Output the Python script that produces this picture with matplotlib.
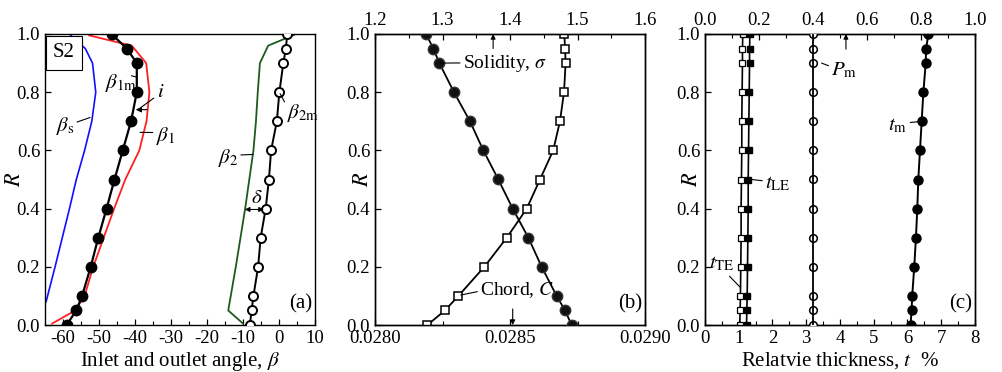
import matplotlib
matplotlib.use("Agg")
import matplotlib.pyplot as plt
from matplotlib.ticker import MultipleLocator, FormatStrFormatter

plt.rcParams['font.family'] = ['Liberation Serif', 'DejaVu Serif']
plt.rcParams['mathtext.fontset'] = 'stix'
plt.rcParams['axes.linewidth'] = 1.0
plt.rcParams['axes.unicode_minus'] = False

# ---------------- data ----------------
R = [0.0, 0.05, 0.1, 0.2, 0.3, 0.4, 0.5, 0.6, 0.7, 0.8, 0.9, 0.95, 1.0]

# panel (a)
beta1m = [-59.0, -56.3, -54.7, -52.3, -50.2, -47.9, -45.7, -43.4, -41.1, -39.5, -39.5, -42.3, -46.5]
beta2m = [-8.1, -7.6, -7.1, -5.8, -5.1, -3.7, -2.8, -2.2, -0.6, 0.1, 1.2, 1.9, 2.3]
R_beta1 = [0.005, 0.05, 0.1, 0.2, 0.3, 0.4, 0.5, 0.6, 0.7, 0.8, 0.9, 0.96, 0.995]
beta1 = [-63.0, -56.6, -54.0, -51.6, -48.7, -45.8, -42.7, -38.8, -36.8, -36.0, -36.9, -40.9, -52.7]
R_betas = [0.08, 0.2, 0.3, 0.4, 0.5, 0.6, 0.7, 0.8, 0.9, 0.95, 1.0]
betas = [-64.7, -62.2, -60.2, -58.2, -56.3, -54.0, -52.0, -50.9, -51.8, -53.8, -58.2]
R_beta2 = [0.005, 0.05, 0.2, 0.4, 0.6, 0.7, 0.8, 0.9, 0.96, 0.997]
beta2 = [-10.0, -14.1, -12.0, -9.4, -7.1, -6.4, -5.9, -5.3, -3.0, 4.2]

# panel (b)
chord = [0.028194, 0.028259, 0.028309, 0.028405, 0.028488, 0.028562, 0.028611,
         0.028660, 0.028685, 0.028700, 0.028706, 0.028704, 0.028701]
solidity = [1.4914, 1.4815, 1.4691, 1.4469, 1.4272, 1.4040, 1.3827,
            1.3605, 1.3407, 1.3170, 1.2953, 1.2864, 1.2756]

# panel (c)
t_TE = [1.03, 1.04, 1.05, 1.06, 1.07, 1.07, 1.08, 1.09, 1.09, 1.10, 1.11, 1.11, 1.12]
t_LE = [1.23, 1.24, 1.25, 1.26, 1.27, 1.28, 1.28, 1.29, 1.30, 1.31, 1.32, 1.32, 1.33]
P_m = [0.40, 0.40, 0.40, 0.40, 0.40, 0.40, 0.40, 0.40, 0.40, 0.40, 0.40, 0.40, 0.40]
t_m = [6.09, 6.12, 6.14, 6.20, 6.25, 6.29, 6.32, 6.37, 6.42, 6.47, 6.54, 6.55, 6.62]

# ---------------- figure ----------------
fig = plt.figure(figsize=(10.03, 3.72), dpi=100)
W, H = 1003.0, 372.0
bottom = (H - 325) / H
height = 291 / H
width = 270 / W
axa = fig.add_axes([45 / W, bottom, width, height])
axb = fig.add_axes([375 / W, bottom, width, height])
axc = fig.add_axes([705 / W, bottom, width, height])

TFS = 13.5   # tick font size
LFS = 15     # annotation font size


def style(ax, rx):
    ax.tick_params(which='both', direction='in', labelsize=TFS, top=False, right=False)
    ax.tick_params(which='major', length=4.5, width=0.9)
    ax.tick_params(which='minor', length=3, width=0.8)
    ax.set_ylim(0, 1.0)
    ax.yaxis.set_major_locator(MultipleLocator(0.2))
    ax.yaxis.set_major_formatter(FormatStrFormatter('%.1f'))
    ax.text(rx, 0.5, '$R$', transform=ax.transAxes, fontsize=16, rotation=90,
            ha='center', va='center')


def top_style(ax):
    ax.tick_params(which='both', direction='in', labelsize=TFS)
    ax.tick_params(which='major', length=4.5, width=0.9)
    ax.tick_params(which='minor', length=3, width=0.8)
    ax.set_ylim(0, 1.0)


def lead(ax, text, xy, xyt, ha='left', va='center', relpos=(0, 0.5), fs=LFS):
    ax.annotate(text, xy=xy, xytext=xyt, ha=ha, va=va, fontsize=fs,
                arrowprops=dict(arrowstyle='-', lw=0.8, color='k',
                                shrinkA=0, shrinkB=0, relpos=relpos))


def arrow(ax, xy, xyt, style='-|>', ms=7):
    ax.annotate('', xy=xy, xytext=xyt,
                arrowprops=dict(arrowstyle=style, lw=0.8, color='k', mutation_scale=ms,
                                shrinkA=0, shrinkB=0))


# ---- panel (a) ----
ax = axa
style(ax, -0.111)
ax.set_xlim(-65, 10)
ax.xaxis.set_major_locator(MultipleLocator(10))
ax.xaxis.set_minor_locator(MultipleLocator(5))
ax.plot(betas, R_betas, color='#1010ff', lw=1.2, zorder=2)
ax.plot(beta1, R_beta1, color='#ff2020', lw=1.3, zorder=2)
ax.plot(beta2, R_beta2, color='#1e5a1e', lw=1.3, zorder=2)
ax.plot(beta1m, R, color='k', lw=1.6, marker='o', ms=7.5, mfc='k', mec='k', zorder=3)
ax.plot(beta2m, R, color='k', lw=1.4, marker='o', ms=6.5, mfc='white', mec='k', mew=1.4, zorder=3)
ax.set_xlabel(r'Inlet and outlet angle, $\beta$', fontsize=15, labelpad=2)

ax.text(0.07, 0.935, 'S2', transform=ax.transAxes, fontsize=15, ha='center', va='center',
        bbox=dict(boxstyle='square,pad=0.35', fc='white', ec='k', lw=0.8))
ax.text(0.988, 0.04, '(a)', transform=ax.transAxes, fontsize=15, ha='right', va='bottom')

lead(ax, r'$\beta_{\rm 1m}$', (-39.6, 0.852), (-48.3, 0.83), relpos=(0.82, 0.85))
lead(ax, r'$i$', (-38.3, 0.748), (-34.0, 0.80), relpos=(0.0, 0.3))
arrow(ax, (-39.8, 0.74), (-36.6, 0.74), ms=8)
lead(ax, r'$\beta_{1}$', (-38.6, 0.662), (-34.3, 0.65), relpos=(0.0, 0.65))
lead(ax, r'$\beta_{\rm s}$', (-52.5, 0.713), (-62.0, 0.685), relpos=(1.0, 0.62))
lead(ax, r'$\beta_{2}$', (-7.2, 0.586), (-17.0, 0.575), relpos=(1.0, 0.62))
lead(ax, r'$\beta_{\rm 2m}$', (0.3, 0.795), (2.3, 0.73), relpos=(0.0, 0.75))
arrow(ax, (-9.5, 0.397), (-4.2, 0.397), style='<|-|>', ms=7)
ax.text(-6.3, 0.435, r'$\delta$', fontsize=LFS, ha='center', va='center')

# ---- panel (b) ----
ax = axb
style(ax, -0.044)
ax.set_xlim(0.0280, 0.0290)
ax.xaxis.set_major_locator(MultipleLocator(0.0005))
ax.xaxis.set_minor_locator(MultipleLocator(0.00025))
ax.xaxis.set_major_formatter(FormatStrFormatter('%.4f'))
ax.plot(chord, R, color='k', lw=1.3, marker='s', ms=5.5, mfc='white', mec='k', mew=1.1, zorder=3)
axbt = ax.twiny()
axbt.set_xlim(1.2, 1.6)
axbt.xaxis.set_major_locator(MultipleLocator(0.1))
axbt.xaxis.set_minor_locator(MultipleLocator(0.05))
axbt.xaxis.set_major_formatter(FormatStrFormatter('%.1f'))
top_style(axbt)
axbt.plot(solidity, R, color='k', lw=1.3, marker='o', ms=7.5, mfc='#111111', mec='#333333', zorder=3)

lead(axbt, r'Solidity, $\sigma$', (1.297, 0.90), (1.330, 0.897), relpos=(0.0, 0.55), fs=14)
arrow(axbt, (1.375, 1.0), (1.375, 0.95))
lead(ax, r'Chord, $C$', (0.028318, 0.103), (0.028389, 0.12), relpos=(0.0, 0.45), fs=14)
arrow(ax, (0.028510, 0.0), (0.028510, 0.055))
ax.text(0.988, 0.04, '(b)', transform=ax.transAxes, fontsize=15, ha='right', va='bottom')

# ---- panel (c) ----
ax = axc
style(ax, -0.048)
ax.set_xlim(0, 8)
ax.xaxis.set_major_locator(MultipleLocator(1))
ax.xaxis.set_minor_locator(MultipleLocator(0.5))
ax.plot(t_TE, R, color='k', lw=1.2, marker='s', ms=4, mfc='white', mec='k', mew=0.9, zorder=3)
ax.plot(t_LE, R, color='k', lw=1.2, marker='s', ms=4, mfc='k', mec='k', zorder=3)
ax.plot(t_m, R, color='k', lw=1.4, marker='o', ms=6.5, mfc='k', mec='k', zorder=3)
ax.set_xlabel(r'Relatvie thickness, $t$  %', fontsize=15, labelpad=2)
axct = ax.twiny()
axct.set_xlim(0.0, 1.0)
axct.xaxis.set_major_locator(MultipleLocator(0.2))
axct.xaxis.set_minor_locator(MultipleLocator(0.1))
axct.xaxis.set_major_formatter(FormatStrFormatter('%.1f'))
top_style(axct)
axct.plot(P_m, R, color='k', lw=0, marker='o', ms=5.5, mfc='white', mec='k', mew=1.1, zorder=3)
axct.plot(P_m, R, color='k', lw=1.3, zorder=4)

lead(axct, r'$P_{\rm m}$', (0.432, 0.90), (0.468, 0.875), relpos=(0.0, 0.68))
arrow(axct, (0.522, 1.0), (0.522, 0.948))
lead(ax, r'$t_{\rm m}$', (6.42, 0.70), (6.0, 0.685), ha='right', relpos=(1.0, 0.65))
lead(ax, r'$t_{\rm LE}$', (1.38, 0.50), (1.78, 0.485), relpos=(0.0, 0.65))
lead(ax, r'$t_{\rm TE}$', (1.04, 0.13), (0.12, 0.21), relpos=(0.55, 0.2))
ax.text(0.988, 0.04, '(c)', transform=ax.transAxes, fontsize=15, ha='right', va='bottom')

fig.savefig('out.png', dpi=100)
